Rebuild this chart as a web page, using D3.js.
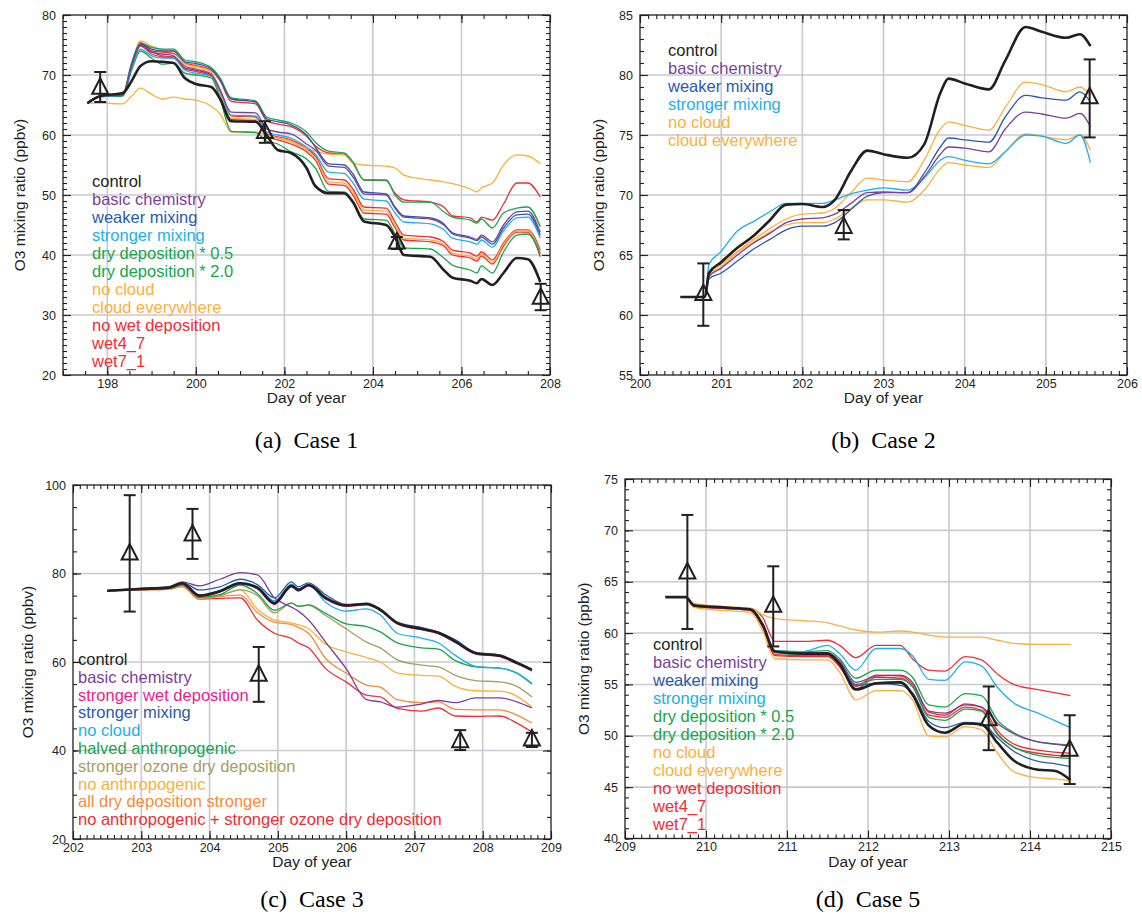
<!DOCTYPE html>
<html>
<head>
<meta charset="utf-8">
<script src="https://cdn.jsdelivr.net/npm/d3@7"></script>
<style>
  body { margin: 0; background: #fff; }
  svg { display: block; }
</style>
</head>
<body>
<svg id="chart" width="1142" height="920"></svg>
<script>
// ---------- Case 1 ----------
const case1Days = [197.55, 197.85, 198.35, 198.55, 198.75, 199.0, 199.25, 199.5, 199.75, 200.0, 200.35, 200.55, 200.8, 201.35, 201.6, 201.85, 202.15, 202.5, 202.7, 203.0, 203.35, 203.55, 203.8, 204.3, 204.5, 204.7, 205.3, 205.6, 205.8, 206.2, 206.35, 206.45, 206.7, 206.95, 207.25, 207.5, 207.78];
const case1Control   = [65.3, 66.5, 67.0, 69.0, 71.5, 72.3, 72.2, 72.0, 69.5, 68.5, 68.0, 66.0, 62.3, 62.2, 60.0, 57.5, 57.0, 54.5, 51.5, 50.3, 50.3, 48.8, 45.6, 45.0, 43.0, 40.0, 39.7, 37.5, 36.2, 35.7, 35.3, 36.0, 35.0, 37.0, 39.5, 39.3, 35.5];
const case1Basic     = [65.3, 66.5, 66.6, 71.5, 75.0, 73.8, 73.5, 73.2, 71.2, 70.8, 70.0, 67.5, 63.8, 63.7, 61.0, 60.5, 60.2, 58.5, 57.5, 54.8, 54.6, 53.0, 50.2, 50.0, 47.8, 46.3, 46.0, 45.0, 43.7, 43.0, 42.6, 43.3, 42.2, 45.0, 47.2, 47.3, 43.8];
const case1Weaker    = [65.3, 66.5, 66.7, 71.7, 75.2, 74.3, 74.0, 74.0, 72.2, 71.9, 71.0, 69.2, 66.0, 65.5, 62.7, 62.2, 61.7, 60.0, 58.0, 55.2, 55.0, 53.5, 50.5, 50.2, 48.0, 46.5, 46.2, 45.2, 43.5, 42.8, 42.4, 43.0, 41.8, 44.5, 46.7, 46.8, 43.3];
const case1Stronger  = [65.3, 66.4, 66.6, 71.2, 74.3, 73.2, 72.8, 72.8, 70.8, 70.3, 69.8, 67.2, 63.3, 63.2, 60.5, 60.0, 59.5, 58.0, 56.8, 53.8, 53.6, 52.0, 49.3, 49.0, 47.0, 45.5, 45.2, 44.2, 42.8, 42.2, 41.8, 42.5, 41.3, 44.0, 46.2, 46.3, 42.8];
const case1Dry05     = [65.3, 66.5, 66.8, 72.0, 75.3, 74.6, 74.3, 74.3, 72.5, 72.2, 71.2, 69.5, 66.2, 65.7, 63.0, 62.5, 62.0, 60.5, 58.8, 57.3, 57.0, 55.5, 52.5, 52.5, 50.0, 48.8, 48.8, 47.2, 46.3, 45.8, 45.3, 46.0, 44.5, 47.0, 47.8, 48.0, 44.7];
const case1Dry20     = [65.3, 66.4, 66.5, 70.8, 74.0, 72.8, 71.8, 72.0, 70.3, 70.0, 69.5, 66.0, 60.6, 60.4, 59.0, 58.5, 57.2, 56.0, 54.5, 50.6, 50.5, 49.0, 46.0, 45.8, 43.5, 41.2, 41.0, 39.5, 38.3, 37.5, 37.0, 38.2, 37.0, 40.5, 43.3, 43.5, 40.2];
const case1NoCloud   = [65.3, 65.3, 65.2, 66.5, 67.8, 66.8, 66.0, 66.3, 66.0, 65.8, 64.8, 63.5, 60.5, 60.5, 60.0, 59.5, 58.8, 57.8, 57.3, 56.8, 56.7, 55.3, 55.0, 54.8, 54.5, 53.3, 52.5, 52.2, 51.9, 51.0, 50.5, 51.2, 52.0, 55.0, 56.7, 56.5, 55.2];
const case1CloudAll  = [65.3, 66.6, 66.8, 72.0, 75.7, 74.8, 74.2, 74.0, 71.8, 71.4, 70.5, 67.0, 62.8, 62.6, 60.0, 59.5, 59.0, 57.5, 56.2, 52.2, 52.0, 50.5, 47.5, 47.3, 45.0, 42.8, 42.5, 41.8, 40.3, 39.8, 39.4, 40.1, 38.8, 41.8, 44.0, 44.0, 40.3];
const case1NoWet     = [65.3, 66.5, 66.7, 71.8, 75.4, 74.0, 73.8, 73.6, 72.0, 71.6, 70.8, 69.0, 65.6, 65.2, 62.4, 61.8, 61.4, 59.8, 58.2, 57.0, 56.8, 55.3, 52.5, 52.4, 50.3, 49.2, 48.8, 48.0, 46.5, 46.2, 45.5, 46.3, 45.8, 48.5, 52.0, 52.0, 49.7];
const case1Wet47     = [65.3, 66.5, 66.7, 71.6, 75.0, 73.9, 73.2, 73.0, 71.5, 71.0, 70.2, 67.5, 63.2, 63.0, 60.2, 59.7, 59.2, 57.8, 56.5, 52.7, 52.5, 51.0, 48.0, 47.8, 45.5, 43.3, 43.0, 42.2, 40.8, 40.3, 39.8, 40.5, 39.2, 42.0, 44.2, 44.2, 40.8];
const case1Wet71     = [65.3, 66.5, 66.7, 71.4, 74.8, 73.5, 73.0, 72.8, 71.0, 70.6, 69.8, 66.8, 62.6, 62.4, 59.7, 59.2, 58.5, 57.2, 55.8, 51.8, 51.6, 50.0, 47.0, 46.8, 44.5, 42.5, 42.2, 41.5, 40.0, 39.5, 39.0, 39.8, 38.5, 41.5, 43.8, 43.8, 39.7];
const case1ObsDay = [197.84, 201.56, 204.54, 207.79];
const case1ObsVal = [67.8, 60.4, 42.0, 32.8];
const case1ObsHi  = [70.5, 62.3, 43.0, 35.2];
const case1ObsLo  = [65.5, 58.7, 41.0, 30.8];

// ---------- Case 2 ----------
const case2Days = [200.5, 200.8, 200.85, 201.0, 201.2, 201.4, 201.6, 201.8, 202.0, 202.25, 202.4, 202.6, 202.8, 203.0, 203.3, 203.5, 203.7, 203.8, 204.0, 204.3, 204.5, 204.75, 204.95, 205.25, 205.42, 205.55];
const case2Control  = [61.5, 61.5, 63.5, 64.4, 65.6, 66.6, 67.9, 69.2, 69.25, 69.0, 69.6, 72.0, 73.7, 73.4, 73.1, 74.2, 78.5, 79.7, 79.3, 78.8, 81.2, 84.0, 83.6, 83.1, 83.4, 82.4];
const case2Basic    = [61.5, 61.5, 63.2, 63.9, 65.0, 66.0, 66.8, 67.7, 68.0, 68.1, 68.4, 69.3, 70.2, 70.25, 70.2, 71.5, 73.4, 74.0, 73.9, 73.6, 75.5, 76.9, 76.75, 76.4, 76.8, 75.7];
const case2Weaker   = [61.5, 61.5, 63.0, 63.5, 64.5, 65.5, 66.3, 67.1, 67.4, 67.4, 67.7, 68.8, 69.9, 70.2, 70.2, 71.8, 74.0, 74.75, 74.6, 74.4, 76.5, 78.3, 78.1, 77.9, 78.6, 77.75];
const case2Stronger = [61.5, 61.5, 64.2, 65.3, 67.0, 67.8, 68.6, 69.3, 69.3, 69.3, 69.6, 70.1, 70.4, 70.6, 70.4, 71.4, 72.9, 73.2, 72.9, 72.6, 73.6, 75.0, 74.9, 74.3, 75.0, 72.7];
const case2NoCloud  = [61.5, 61.5, 63.4, 64.2, 65.3, 66.3, 67.2, 68.0, 68.4, 68.5, 68.9, 70.2, 71.4, 71.25, 71.1, 72.9, 75.5, 76.1, 75.8, 75.4, 77.3, 79.4, 79.2, 78.6, 79.0, 78.3];
const case2CloudAll = [61.5, 61.5, 63.3, 64.0, 65.2, 66.1, 66.9, 67.5, 67.7, 67.7, 68.0, 68.9, 69.6, 69.6, 69.4, 70.4, 72.2, 72.7, 72.5, 72.3, 73.6, 75.1, 74.9, 74.6, 75.0, 73.75];
const case2ObsDay = [200.78, 202.51, 205.54];
const case2ObsVal = [61.7, 67.3, 78.1];
const case2ObsHi  = [64.3, 68.75, 81.3];
const case2ObsLo  = [59.1, 66.3, 74.8];

// ---------- Case 3 ----------
const case3Days = [202.5, 203.0, 203.4, 203.6, 203.85, 204.15, 204.45, 204.7, 204.95, 205.2, 205.3, 205.45, 205.7, 206.0, 206.3, 206.5, 206.75, 207.1, 207.35, 207.6, 207.9, 208.25, 208.5, 208.72];
const case3Control    = [76.1, 76.5, 76.8, 77.8, 75.0, 76.0, 77.8, 76.8, 73.3, 77.2, 76.3, 77.4, 74.5, 72.8, 73.1, 71.8, 68.8, 67.5, 66.6, 64.6, 62.0, 61.4, 59.8, 58.2];
const case3Basic      = [76.1, 76.7, 77.0, 78.1, 77.2, 78.7, 80.2, 79.7, 74.5, 72.4, 71.5, 69.5, 64.5, 58.5, 51.5, 51.0, 49.8, 50.5, 51.3, 50.8, 51.9, 51.9, 51.0, 49.6];
const case3StrongWet  = [76.1, 76.4, 76.7, 77.6, 74.8, 75.8, 77.6, 76.5, 73.0, 77.0, 76.0, 77.2, 74.2, 72.6, 72.9, 71.6, 68.6, 67.3, 66.4, 64.4, 61.8, 61.2, 59.6, 58.0];
const case3StrongMix  = [76.1, 76.5, 76.9, 78.0, 76.3, 77.0, 78.7, 77.5, 74.5, 78.1, 77.0, 77.9, 75.2, 73.0, 73.3, 72.0, 69.0, 67.8, 66.8, 65.0, 62.2, 61.6, 60.0, 58.4];
const case3NoCloud    = [76.1, 76.6, 76.8, 77.8, 75.2, 76.2, 78.0, 77.0, 73.8, 77.6, 76.6, 77.5, 73.5, 71.5, 72.0, 70.6, 66.5, 65.4, 64.3, 61.5, 59.0, 58.6, 57.5, 55.2];
const case3HalvedAnth = [76.1, 76.4, 76.6, 77.4, 74.6, 75.2, 77.4, 75.5, 71.7, 73.3, 72.6, 72.9, 71.0, 68.6, 68.0, 66.8, 64.3, 63.2, 62.9, 60.3, 58.9, 58.6, 57.5, 55.0];
const case3OzoneDry   = [76.1, 76.4, 76.6, 77.4, 74.5, 75.0, 76.3, 75.0, 71.1, 73.3, 72.6, 72.8, 70.5, 67.5, 64.5, 63.2, 60.5, 59.3, 58.9, 57.0, 55.8, 55.5, 54.5, 52.1];
const case3NoAnth     = [76.1, 76.4, 76.5, 77.2, 74.5, 75.0, 76.3, 72.0, 69.5, 68.8, 68.4, 67.5, 64.0, 62.3, 61.0, 60.0, 57.5, 57.0, 56.8, 54.5, 53.5, 53.4, 52.3, 49.8];
const case3AllDry     = [76.1, 76.3, 76.4, 77.0, 74.2, 74.8, 75.1, 71.2, 69.0, 68.5, 67.8, 66.5, 60.8, 57.5, 54.8, 54.3, 51.5, 50.8, 51.0, 49.3, 49.2, 49.2, 48.0, 46.2];
const case3NoAnthDry  = [76.1, 76.3, 76.5, 77.2, 74.2, 74.4, 74.5, 69.5, 66.5, 65.3, 64.3, 63.2, 58.5, 55.5, 52.5, 52.1, 49.5, 48.9, 49.6, 47.8, 47.7, 47.8, 46.2, 44.2];
const case3ObsDay = [202.83, 203.75, 204.72, 207.67, 208.72];
const case3ObsVal = [84.4, 88.7, 57.0, 42.0, 42.4];
const case3ObsHi  = [97.7, 94.6, 63.4, 44.6, 44.0];
const case3ObsLo  = [71.4, 83.3, 51.0, 40.1, 40.8];

// ---------- Case 5 ----------
const case5Days = [209.5, 209.75, 209.85, 210.2, 210.55, 210.7, 210.85, 211.2, 211.5, 211.65, 211.85, 212.1, 212.4, 212.55, 212.75, 212.95, 213.2, 213.4, 213.6, 213.8, 214.1, 214.3, 214.5];
const case5Control   = [63.5, 63.5, 62.7, 62.5, 62.3, 60.8, 58.2, 58.0, 58.0, 57.0, 54.5, 55.1, 55.2, 54.0, 51.0, 50.3, 51.2, 51.1, 49.3, 47.6, 46.7, 46.6, 45.7];
const case5Basic     = [63.5, 63.5, 62.7, 62.5, 62.3, 60.8, 58.2, 58.1, 58.1, 57.3, 55.2, 55.8, 55.9, 55.2, 52.4, 52.2, 53.0, 52.8, 51.2, 50.2, 49.4, 49.2, 49.0];
const case5Weaker    = [63.5, 63.5, 62.7, 62.5, 62.3, 60.8, 58.2, 58.0, 58.0, 57.1, 54.9, 55.1, 54.9, 54.2, 51.4, 50.8, 51.3, 51.2, 49.8, 48.5, 47.5, 47.3, 47.0];
const case5Stronger  = [63.5, 63.5, 62.7, 62.5, 62.3, 60.9, 58.3, 58.2, 58.8, 58.0, 56.4, 58.5, 58.5, 57.8, 55.5, 55.4, 57.2, 56.8, 54.7, 53.2, 52.2, 51.5, 50.8];
const case5Dry05     = [63.5, 63.5, 62.7, 62.5, 62.3, 60.9, 58.3, 58.2, 58.3, 57.5, 55.6, 56.4, 56.4, 55.7, 53.0, 52.8, 54.1, 53.9, 51.5, 50.3, 49.4, 49.2, 49.1];
const case5Dry20     = [63.5, 63.5, 62.7, 62.5, 62.3, 60.8, 58.1, 57.9, 57.9, 57.0, 55.0, 55.5, 55.5, 54.8, 51.8, 51.5, 52.6, 52.4, 50.1, 48.9, 48.1, 47.9, 47.8];
const case5NoCloud   = [63.5, 63.5, 62.9, 62.6, 62.4, 61.8, 61.4, 61.2, 61.0, 60.7, 60.3, 60.1, 60.2, 60.1, 59.8, 59.6, 59.6, 59.6, 59.3, 59.0, 58.9, 58.9, 58.9];
const case5CloudAll  = [63.5, 63.5, 62.5, 62.2, 62.0, 60.2, 57.5, 57.4, 57.4, 56.2, 53.5, 54.4, 54.4, 53.5, 50.0, 49.9, 50.9, 50.6, 48.3, 46.5, 45.9, 45.8, 45.6];
const case5NoWet     = [63.5, 63.5, 62.7, 62.5, 62.4, 61.5, 59.2, 59.2, 59.3, 58.8, 57.6, 58.8, 58.8, 57.5, 56.4, 56.3, 57.7, 57.4, 56.0, 55.0, 54.5, 54.2, 53.9];
const case5Wet47     = [63.5, 63.5, 62.6, 62.4, 62.2, 60.6, 57.9, 57.8, 57.8, 56.8, 54.8, 55.9, 55.8, 55.0, 52.3, 52.0, 53.1, 52.8, 50.5, 49.2, 48.6, 48.4, 48.3];
const case5Wet71     = [63.5, 63.5, 62.6, 62.4, 62.2, 60.6, 57.8, 57.7, 57.7, 56.7, 54.6, 55.7, 55.6, 54.8, 52.0, 51.8, 52.8, 52.5, 50.2, 48.9, 48.3, 48.1, 48.0];
const case5ObsDay = [209.77, 210.83, 213.49, 214.49];
const case5ObsVal = [65.85, 62.6, 51.55, 48.6];
const case5ObsHi  = [71.5, 66.5, 54.8, 52.0];
const case5ObsLo  = [60.4, 58.7, 48.6, 45.3];

// ---------- styles ----------
const COL = {
  black: "#231f20", purple: "#7c3f98", blue: "#2b5aa8", cyan: "#1cb0ea",
  green: "#17a54b", yellow: "#fbb03b", red: "#ee2d36", pink: "#e7228b",
  olive: "#a39f5e", orange: "#f68b3c"
};
const AX = "#231f20";
const GRID = "#c9cad2";
const SANS = "'Liberation Sans', Arial, sans-serif";
const SERIF = "'Liberation Serif', 'Times New Roman', serif";

const svg = d3.select("#chart");

function steps(a, b, s) {
  const n = Math.round((b - a) / s);
  return d3.range(n + 1).map(i => +(a + i * s).toFixed(4));
}

function addAxis(g, axisFn, scale, values, size, tr, pad) {
  const labels = pad != null;
  g.append("g").attr("transform", tr)
    .call(axisFn(scale).tickValues(values).tickSize(-size).tickSizeOuter(0)
      .tickPadding(labels ? pad : 0).tickFormat(labels ? d3.format("d") : ""))
    .call(a => a.select(".domain").remove())
    .call(a => a.selectAll("line").attr("stroke", AX).attr("stroke-width", 1.1))
    .call(a => a.selectAll("text").attr("font-size", 12.5).attr("fill", AX).attr("font-family", SANS));
}

function drawPanel(p) {
  const [L, R, T, B] = p.box;
  const x = d3.scaleLinear().domain(p.xDomain).range([L, R]);
  const y = d3.scaleLinear().domain(p.yDomain).range([B, T]);
  const g = svg.append("g");

  // grid
  g.append("g").selectAll("line").data(p.xMajor.filter(d => d > p.xDomain[0] && d < p.xDomain[1])).join("line")
    .attr("x1", d => x(d)).attr("x2", d => x(d)).attr("y1", T).attr("y2", B)
    .attr("stroke", GRID).attr("stroke-width", 1.6);
  g.append("g").selectAll("line").data(p.yMajor.filter(d => d > p.yDomain[0] && d < p.yDomain[1])).join("line")
    .attr("y1", d => y(d)).attr("y2", d => y(d)).attr("x1", L).attr("x2", R)
    .attr("stroke", GRID).attr("stroke-width", 1.6);

  // ticks (inward, all four sides)
  addAxis(g, d3.axisBottom, x, p.xMinor, 4, `translate(0,${B})`);
  addAxis(g, d3.axisBottom, x, p.xMajor, 8, `translate(0,${B})`, 4);
  addAxis(g, d3.axisTop, x, p.xMinor, 4, `translate(0,${T})`);
  addAxis(g, d3.axisTop, x, p.xMajor, 8, `translate(0,${T})`);
  addAxis(g, d3.axisLeft, y, p.yMinor, 4, `translate(${L},0)`);
  addAxis(g, d3.axisLeft, y, p.yMajor, 8, `translate(${L},0)`, 7);
  addAxis(g, d3.axisRight, y, p.yMinor, 4, `translate(${R},0)`);
  addAxis(g, d3.axisRight, y, p.yMajor, 8, `translate(${R},0)`);

  g.append("rect").attr("x", L).attr("y", T).attr("width", R - L).attr("height", B - T)
    .attr("fill", "none").attr("stroke", AX).attr("stroke-width", 1.3);

  // model lines
  const line = d3.line().x(d => x(d[0])).y(d => y(d[1])).curve(d3.curveMonotoneX);
  p.series.slice().reverse().forEach(s => {
    g.append("path")
      .datum(p.days.map((d, i) => [d, s.values[i]]))
      .attr("d", line)
      .attr("fill", "none")
      .attr("stroke", COL[s.color])
      .attr("stroke-width", s.color === "black" ? 2.6 : 1.3)
      .attr("stroke-linejoin", "round");
  });

  // observations
  const obs = g.append("g").attr("stroke", AX).attr("stroke-width", 2).attr("fill", "none");
  p.obs.day.forEach((d, i) => {
    const cx = x(d), cy = y(p.obs.val[i]);
    const hi = y(p.obs.hi[i]), lo = y(p.obs.lo[i]);
    obs.append("line").attr("x1", cx).attr("x2", cx).attr("y1", hi).attr("y2", lo);
    obs.append("line").attr("x1", cx - 6).attr("x2", cx + 6).attr("y1", hi).attr("y2", hi);
    obs.append("line").attr("x1", cx - 6).attr("x2", cx + 6).attr("y1", lo).attr("y2", lo);
    obs.append("path").attr("d", `M${cx},${cy - 10}L${cx - 8},${cy + 5.5}L${cx + 8},${cy + 5.5}Z`)
      .attr("stroke-linejoin", "miter");
  });

  // legend
  g.append("g").selectAll("text").data(p.series).join("text")
    .attr("x", p.legend[0]).attr("y", (d, i) => p.legend[1] + i * p.legend[2])
    .attr("font-family", SANS).attr("font-size", 16.5).attr("fill", d => COL[d.color])
    .text(d => d.name);

  // titles
  g.append("text").attr("x", (L + R) / 2).attr("y", B + 28).attr("text-anchor", "middle")
    .attr("font-family", SANS).attr("font-size", 15.5).attr("fill", AX).text("Day of year");
  g.append("text").attr("transform", `translate(${p.yTitleX},${(T + B) / 2}) rotate(-90)`)
    .attr("text-anchor", "middle").attr("font-family", SANS).attr("font-size", 15.5).attr("fill", AX)
    .text("O3 mixing ratio (ppbv)");
  g.append("text").attr("x", (L + R) / 2).attr("y", p.captionY).attr("text-anchor", "middle")
    .attr("font-family", SERIF).attr("font-size", 24).attr("fill", "#000")
    .style("white-space", "pre").text(p.caption);
}

drawPanel({
  box: [63, 550, 15, 375], xDomain: [197, 208], yDomain: [20, 80],
  xMajor: steps(198, 208, 2), xMinor: steps(197, 208, 0.5),
  yMajor: steps(20, 80, 10), yMinor: steps(20, 80, 1),
  days: case1Days,
  series: [
    { name: "control", color: "black", values: case1Control },
    { name: "basic chemistry", color: "purple", values: case1Basic },
    { name: "weaker mixing", color: "blue", values: case1Weaker },
    { name: "stronger mixing", color: "cyan", values: case1Stronger },
    { name: "dry deposition * 0.5", color: "green", values: case1Dry05 },
    { name: "dry deposition * 2.0", color: "green", values: case1Dry20 },
    { name: "no cloud", color: "yellow", values: case1NoCloud },
    { name: "cloud everywhere", color: "yellow", values: case1CloudAll },
    { name: "no wet deposition", color: "red", values: case1NoWet },
    { name: "wet4_7", color: "red", values: case1Wet47 },
    { name: "wet7_1", color: "red", values: case1Wet71 }
  ],
  obs: { day: case1ObsDay, val: case1ObsVal, hi: case1ObsHi, lo: case1ObsLo },
  legend: [92, 187, 18], yTitleX: 25, captionY: 448, caption: "(a)  Case 1"
});

drawPanel({
  box: [640, 1127, 15, 375], xDomain: [200, 206], yDomain: [55, 85],
  xMajor: steps(200, 206, 1), xMinor: steps(200, 206, 0.1),
  yMajor: steps(55, 85, 5), yMinor: steps(55, 85, 1),
  days: case2Days,
  series: [
    { name: "control", color: "black", values: case2Control },
    { name: "basic chemistry", color: "purple", values: case2Basic },
    { name: "weaker mixing", color: "blue", values: case2Weaker },
    { name: "stronger mixing", color: "cyan", values: case2Stronger },
    { name: "no cloud", color: "yellow", values: case2NoCloud },
    { name: "cloud everywhere", color: "yellow", values: case2CloudAll }
  ],
  obs: { day: case2ObsDay, val: case2ObsVal, hi: case2ObsHi, lo: case2ObsLo },
  legend: [668, 56, 18], yTitleX: 604, captionY: 448, caption: "(b)  Case 2"
});

drawPanel({
  box: [73, 551, 485, 839], xDomain: [202, 209], yDomain: [20, 100],
  xMajor: steps(202, 209, 1), xMinor: steps(202, 209, 0.1),
  yMajor: steps(20, 100, 20), yMinor: steps(20, 100, 5),
  days: case3Days,
  series: [
    { name: "control", color: "black", values: case3Control },
    { name: "basic chemistry", color: "purple", values: case3Basic },
    { name: "stronger wet deposition", color: "pink", values: case3StrongWet },
    { name: "stronger mixing", color: "blue", values: case3StrongMix },
    { name: "no cloud", color: "cyan", values: case3NoCloud },
    { name: "halved anthropogenic", color: "green", values: case3HalvedAnth },
    { name: "stronger ozone dry deposition", color: "olive", values: case3OzoneDry },
    { name: "no anthropogenic", color: "yellow", values: case3NoAnth },
    { name: "all dry deposition stronger", color: "orange", values: case3AllDry },
    { name: "no anthropogenic + stronger ozone dry deposition", color: "red", values: case3NoAnthDry }
  ],
  obs: { day: case3ObsDay, val: case3ObsVal, hi: case3ObsHi, lo: case3ObsLo },
  legend: [78, 665, 17.8], yTitleX: 33, captionY: 907, caption: "(c)  Case 3"
});

drawPanel({
  box: [625, 1111, 479, 838.5], xDomain: [209, 215], yDomain: [40, 75],
  xMajor: steps(209, 215, 1), xMinor: steps(209, 215, 0.1),
  yMajor: steps(40, 75, 5), yMinor: steps(40, 75, 1),
  days: case5Days,
  series: [
    { name: "control", color: "black", values: case5Control },
    { name: "basic chemistry", color: "purple", values: case5Basic },
    { name: "weaker mixing", color: "blue", values: case5Weaker },
    { name: "stronger mixing", color: "cyan", values: case5Stronger },
    { name: "dry deposition * 0.5", color: "green", values: case5Dry05 },
    { name: "dry deposition * 2.0", color: "green", values: case5Dry20 },
    { name: "no cloud", color: "yellow", values: case5NoCloud },
    { name: "cloud everywhere", color: "yellow", values: case5CloudAll },
    { name: "no wet deposition", color: "red", values: case5NoWet },
    { name: "wet4_7", color: "red", values: case5Wet47 },
    { name: "wet7_1", color: "red", values: case5Wet71 }
  ],
  obs: { day: case5ObsDay, val: case5ObsVal, hi: case5ObsHi, lo: case5ObsLo },
  legend: [653, 650, 18], yTitleX: 589, captionY: 907, caption: "(d)  Case 5"
});
</script>
</body>
</html>
